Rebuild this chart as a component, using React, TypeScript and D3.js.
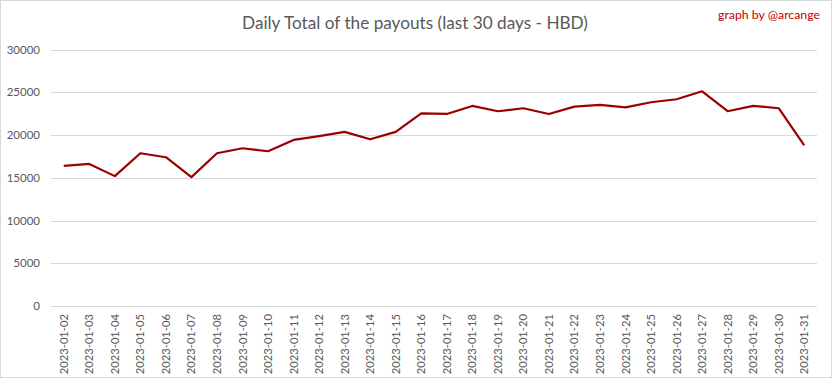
import React from "react";
import * as d3 from "d3";

const dates = [
  "2023-01-02","2023-01-03","2023-01-04","2023-01-05","2023-01-06","2023-01-07","2023-01-08","2023-01-09","2023-01-10","2023-01-11",
  "2023-01-12","2023-01-13","2023-01-14","2023-01-15","2023-01-16","2023-01-17","2023-01-18","2023-01-19","2023-01-20","2023-01-21",
  "2023-01-22","2023-01-23","2023-01-24","2023-01-25","2023-01-26","2023-01-27","2023-01-28","2023-01-29","2023-01-30","2023-01-31",
];
const payouts = [
  16390, 16620, 15190, 17870, 17400, 15070, 17870, 18450, 18100, 19420,
  19870, 20360, 19500, 20360, 22540, 22460, 23400, 22780, 23130, 22460,
  23320, 23520, 23240, 23830, 24180, 25110, 22780, 23400, 23130, 18800,
];
const yTicks = [0, 5000, 10000, 15000, 20000, 25000, 30000];

const W = 833, H = 379;
const left = 51, right = 817, top = 49.5, bottom = 306;
const font = "Lato, 'Open Sans', sans-serif";

export default function App() {
  const x = d3.scalePoint<string>().domain(dates).range([left, right]).padding(0.5);
  const y = d3.scaleLinear().domain([0, 30000]).range([bottom, top]);
  const line = d3.line<number>().x((_, i) => x(dates[i])!).y((d) => y(d));
  return (
    <svg width={W} height={H} style={{ position: "absolute", left: 0, top: 0, background: "#fff" }}>
      <rect x={0.5} y={0.5} width={W - 2} height={H - 2} fill="#fff" stroke="#d9d9d9" />
      <text x={415} y={29} textAnchor="middle" fontFamily={font} fontSize={17.2} fill="#595959">
        Daily Total of the payouts (last 30 days - HBD)
      </text>
      <text x={820} y={19} textAnchor="end" fontFamily={font} fontSize={12.3} fill="#c00000">
        graph by @arcange
      </text>
      {yTicks.map((t) => (
        <g key={t}>
          <line x1={left} x2={right} y1={Math.round(y(t)) + 0.5} y2={Math.round(y(t)) + 0.5} stroke="#d9d9d9" />
          <text x={40} y={y(t) + 4} textAnchor="end" fontFamily={font} fontSize={11.5} fill="#595959">
            {t}
          </text>
        </g>
      ))}
      {dates.map((d) => (
        <text
          key={d}
          transform={`translate(${x(d)! + 4},${bottom + 8}) rotate(-90)`}
          textAnchor="end"
          fontFamily={font}
          fontSize={11.2}
          fill="#595959"
        >
          {d}
        </text>
      ))}
      <path d={line(payouts)!} fill="none" stroke="#990000" strokeWidth={2.2} strokeLinejoin="round" />
    </svg>
  );
}
